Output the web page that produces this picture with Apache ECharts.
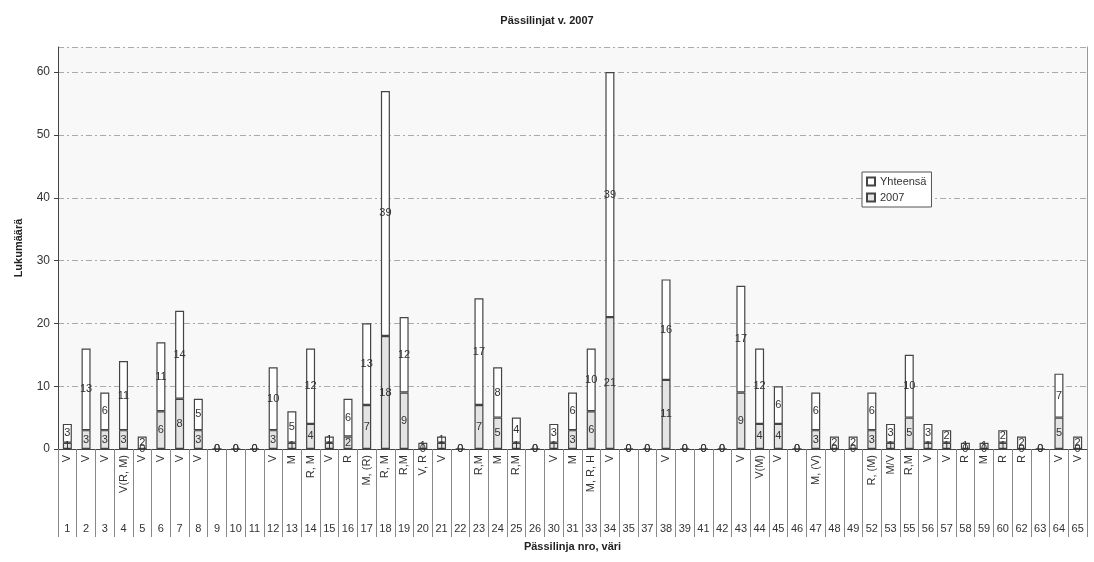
<!DOCTYPE html>
<html>
<head>
<meta charset="utf-8">
<script src="https://cdn.jsdelivr.net/npm/echarts@6/dist/echarts.min.js"></script>
<style>html,body{margin:0;padding:0;background:#fff}#c{width:1094px;height:562px}</style>
</head>
<body>
<div id="c"></div>
<script>
const lineNumbers = ['1','2','3','4','5','6','7','8','9','10','11','12','13','14','15','16','17','18','19','20','21','22','23','24','25','26','30','31','33','34','35','37','38','39','41','42','43','44','45','46','47','48','49','52','53','55','56','57','58','59','60','62','63','64','65'];
const colours = ['V','V','V','V(R, M)','V','V','V','V','','','','V','M','R, M','V','R','M, (R)','R, M','R,M','V, R','V','','R,M','M','R,M','','V','M','M, R, H','V','','','V','','','','V','V(M)','V','','M, (V)','','','R, (M)','M/V','R,M','V','V','R','M','R','R','','V','V'];
const values2007 = [1,3,3,3,0,6,8,3,0,0,0,3,1,4,1,2,7,18,9,0,1,0,7,5,1,0,1,3,6,21,0,0,11,0,0,0,9,4,4,0,3,0,0,3,1,5,1,1,0,0,1,0,0,5,0];
const valuesRest = [3,13,6,11,2,11,14,5,0,0,0,10,5,12,1,6,13,39,12,1,1,0,17,8,4,0,3,6,10,39,0,0,16,0,0,0,17,12,6,0,6,2,2,6,3,10,3,2,1,1,2,2,0,7,2];
const yTicks = [0,10,20,30,40,50,60];

const chart = echarts.init(document.getElementById('c'));
const lbl = {show:true, position:'inside', color:'#333', fontSize:11, fontFamily:'Liberation Sans, Arial, sans-serif'};
chart.setOption({
  backgroundColor:'#fff',
  animation:false,
  textStyle:{fontFamily:'Liberation Sans, Arial, sans-serif'},
  title:{text:'Pässilinjat v. 2007', left:'center', top:10, textStyle:{fontSize:11, fontWeight:'bold', color:'#222'}},
  legend:{
    orient:'vertical', left:862, top:172, itemWidth:8, itemHeight:8, itemGap:5,
    padding:[4,5,4,4], borderColor:'#555', borderWidth:1, backgroundColor:'#fff',
    textStyle:{fontSize:11, color:'#333'}, icon:'rect',
    data:['Yhteensä','2007']
  },
  grid:{left:58, right:7, top:47, bottom:113, show:true, backgroundColor:'#f8f8f8', borderWidth:0},
  xAxis:[{
    type:'category', data:colours, position:'bottom',
    axisLine:{lineStyle:{color:'#444'}},
    axisTick:{show:true, length:88, lineStyle:{color:'#888'}},
    axisLabel:{rotate:90, interval:0, fontSize:11, color:'#333', margin:6}
  },{
    type:'category', data:lineNumbers, position:'bottom', offset:70,
    axisLine:{show:false}, axisTick:{show:false},
    axisLabel:{interval:0, fontSize:11, color:'#333', margin:4},
    name:'Pässilinja nro, väri', nameLocation:'middle', nameGap:22,
    nameTextStyle:{fontSize:11, fontWeight:'bold', color:'#222'}
  }],
  yAxis:[{
    type:'value', min:0, max:64, interval:10,
    axisLabel:{fontSize:12, color:'#333', showMaxLabel:false, formatter:v=>yTicks.includes(v)?String(v):''},
    axisLine:{show:true, lineStyle:{color:'#444'}},
    axisTick:{show:true, length:4, lineStyle:{color:'#444'}},
    splitLine:{lineStyle:{color:'#aaa', type:[6,3,2,3]}},
    name:'Lukumäärä', nameLocation:'middle', nameGap:34,
    nameTextStyle:{fontSize:11, fontWeight:'bold', color:'#222'}
  },{
    type:'value', min:0, max:64, interval:10, position:'right',
    axisLabel:{show:false}, axisTick:{show:false}, splitLine:{show:false},
    axisLine:{show:true, lineStyle:{color:'#999'}}
  }],
  series:[{
    name:'2007', type:'bar', stack:'t', data:values2007, barWidth:9,
    itemStyle:{color:'#e4e4e4', borderColor:'#444', borderWidth:1.2},
    label:lbl
  },{
    name:'Yhteensä', type:'bar', stack:'t', data:valuesRest, barWidth:9,
    itemStyle:{color:'#ffffff', borderColor:'#444', borderWidth:1.2},
    label:lbl
  }]
});
</script>
</body>
</html>
